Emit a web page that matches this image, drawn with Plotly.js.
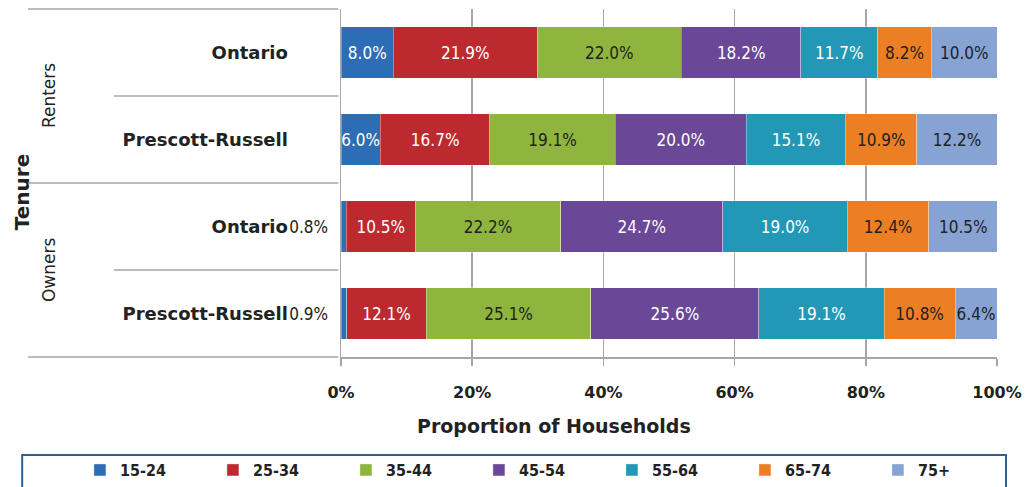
<!DOCTYPE html>
<html><head><meta charset="utf-8">
<script src="https://cdn.plot.ly/plotly-3.0.1.min.js"></script>
<style>html,body{margin:0;padding:0;background:#fff}#chart{width:1029px;height:487px}
#chart text.bartext, #chart text.legendtext, #chart g.annotation.small text{font-stretch:condensed !important;}
</style>
</head><body><div id="chart"></div>
<script>
const groups = ["Renters","Renters","Owners","Owners"];
const regions = ["Ontario","Prescott-Russell","Ontario","Prescott-Russell"];
const ageGroups = ["15-24","25-34","35-44","45-54","55-64","65-74","75+"];
const age15_24 = [8.0, 6.0, 0.8, 0.9];
const age25_34 = [21.9, 16.7, 10.5, 12.1];
const age35_44 = [22.0, 19.1, 22.2, 25.1];
const age45_54 = [18.2, 20.0, 24.7, 25.6];
const age55_64 = [11.7, 15.1, 19.0, 19.1];
const age65_74 = [8.2, 10.9, 12.4, 10.8];
const age75plus = [10.0, 12.2, 10.5, 6.4];
const xTickVals = [0, 20, 40, 60, 80, 100];
const xTickText = ["0%","20%","40%","60%","80%","100%"];

const series = [age15_24, age25_34, age35_44, age45_54, age55_64, age65_74, age75plus];
const colors = ["#2C6DB5","#BC2A2F","#8FB53E","#6A4797","#2398B6","#EC7F24","#87A3D4"];
const textColors = ["#fff","#fff","#222","#fff","#fff","#222","#222"];
const narrow = "DejaVu Sans, sans-serif";
const keys = groups.map((g,i) => g + " · " + regions[i]);

const traces = series.map((vals, k) => ({
  type: "bar", orientation: "h", name: ageGroups[k],
  x: vals, y: keys,
  marker: {color: colors[k], line: {color: "rgba(255,255,255,0.35)", width: 1}},
  text: vals.map(v => v >= 2 ? v.toFixed(1) + "%" : ""),
  textposition: "inside", insidetextanchor: "middle", constraintext: "none", textangle: 0,
  textfont: {family: narrow, size: 17, color: textColors[k]},
  hovertemplate: "%{y}: %{x:.1f}%<extra>" + ageGroups[k] + "</extra>"
}));

const annotations = [];
age15_24.forEach((v, i) => {
  if (v < 2) annotations.push({xref: "x", yref: "y", x: 0, y: keys[i], text: v.toFixed(1) + "%",
    xanchor: "right", xshift: -9, showarrow: false, font: {family: narrow, size: 17, color: "#222"}});
});
const nSmall = annotations.length;
annotations.push(
  {xref: "paper", yref: "paper", x: 0.325, y: -0.198, xanchor: "center", yanchor: "middle",
   text: "<b>Proportion of Households</b>", showarrow: false,
   font: {family: "DejaVu Sans", size: 19, color: "#222"}},
  {xref: "paper", yref: "paper", x: -0.486, y: 0.474, xanchor: "center", yanchor: "middle",
   text: "<b>Tenure</b>", textangle: -90, showarrow: false,
   font: {family: "DejaVu Sans", size: 20, color: "#222"}},
  {xref: "paper", yref: "paper", x: -0.445, y: 0.75, xanchor: "center", yanchor: "middle",
   text: "Renters", textangle: -90, showarrow: false,
   font: {family: "DejaVu Sans", size: 17, color: "#222"}},
  {xref: "paper", yref: "paper", x: -0.445, y: 0.25, xanchor: "center", yanchor: "middle",
   text: "Owners", textangle: -90, showarrow: false,
   font: {family: "DejaVu Sans", size: 17, color: "#222"}}
);

const sep = "#A6A6A6";
const shapes = [
  {y: 1, x0: -0.477}, {y: 0.75, x0: -0.346}, {y: 0.5, x0: -0.477}, {y: 0.25, x0: -0.346}, {y: 0, x0: -0.477}
].map(s => ({type: "line", xref: "paper", yref: "paper", x0: s.x0, x1: -0.004, y0: s.y, y1: s.y,
  line: {color: sep, width: 1.5}}));
shapes.push({type: "rect", xref: "paper", yref: "paper", x0: -0.486, x1: 1.0137, y0: -0.2816, y1: -0.46,
  line: {color: "#2F5E8F", width: 2}, fillcolor: "rgba(0,0,0,0)"});

const layout = {
  width: 1029, height: 487,
  margin: {l: 341, r: 32, t: 9, b: 130, autoexpand: false},
  paper_bgcolor: "#fff", plot_bgcolor: "#fff",
  barmode: "stack", bargap: 0.41,
  showlegend: true,
  xaxis: {range: [0, 100], tickvals: xTickVals, ticktext: xTickText, showgrid: true, gridcolor: sep, gridwidth: 1.5,
    zeroline: false, showline: true, linecolor: sep, linewidth: 1.5, ticks: "outside", ticklen: 7, tickcolor: sep,
    tickwidth: 1.5, ticklabelstandoff: 13, tickfont: {family: "DejaVu Sans", size: 16, color: "#222", weight: "bold"},
    automargin: false, fixedrange: true},
  yaxis: {type: "category", categoryorder: "array", categoryarray: keys, autorange: "reversed",
    tickvals: keys, ticktext: regions, ticks: "", showgrid: false, zeroline: false,
    showline: true, linecolor: sep, linewidth: 1.5, ticklabelstandoff: 48,
    tickfont: {family: "DejaVu Sans", size: 18, color: "#222", weight: "bold"}, automargin: false, fixedrange: true},
  legend: {orientation: "h", x: -0.398, xanchor: "left", y: -0.276, yanchor: "top",
    entrywidth: 88, entrywidthmode: "pixels", traceorder: "normal",
    bgcolor: "rgba(0,0,0,0)", font: {family: narrow, size: 16, color: "#222", weight: "bold"}},
  annotations: annotations, shapes: shapes
};

Plotly.newPlot("chart", traces, layout, {displayModeBar: false, staticPlot: true}).then(() => {
  document.querySelectorAll("#chart g.annotation").forEach((g, i) => { if (i < nSmall) g.classList.add("small"); });
});
</script></body></html>
